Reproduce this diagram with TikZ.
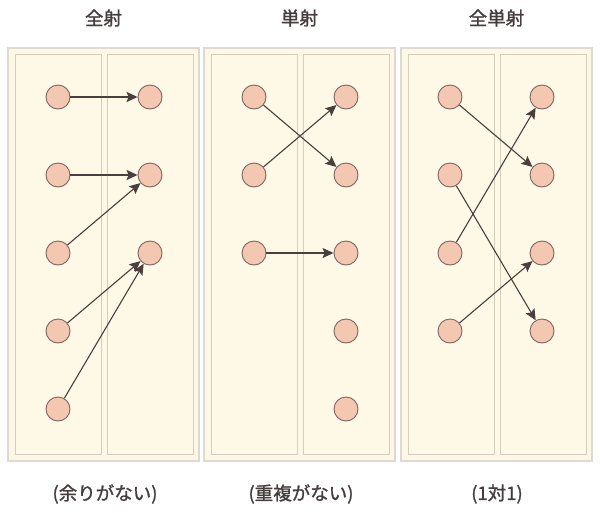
\documentclass[tikz,border=0pt]{standalone}
\usepackage{fontspec}
\setmainfont{Noto Sans CJK JP}[FakeBold=1.2]
\usetikzlibrary{arrows.meta}
\definecolor{panelfill}{HTML}{FDF7E6}
\definecolor{panelline}{HTML}{DEDAD2}
\definecolor{innerfill}{HTML}{FEF8E7}
\definecolor{innerline}{HTML}{D6CDBB}
\definecolor{dotfill}{HTML}{F4C8B0}
\definecolor{dotline}{HTML}{7E6462}
\definecolor{arrowcol}{HTML}{4A3E3E}
\definecolor{txtcol}{HTML}{463E3E}
\tikzset{
  panel/.style={draw=panelline, fill=panelfill, line width=1.5pt},
  inner/.style={draw=innerline, fill=innerfill, line width=1pt},
  dot/.style={circle, draw=dotline, fill=dotfill, line width=0.9pt, minimum size=24pt, inner sep=0pt},
  maparrow/.style={draw=arrowcol, line width=1.1pt, -{Stealth[length=11pt,width=10pt,inset=2pt]}},
  label/.style={text=txtcol, font=\fontsize{18.5}{21}\selectfont}
}
\begin{document}
\begin{tikzpicture}[x=1pt,y=-1pt]
\useasboundingbox (0,0) rectangle (600,512);
\fill[white] (0,0) rectangle (600,512);
% panels
\foreach \px in {8,204,401}{
  \draw[panel] (\px,48) rectangle ++(191,413);
  \draw[inner] (\px+7,54) rectangle ++(86,400);
  \draw[inner] (\px+99,54) rectangle ++(86,400);
}
% titles
\node[label] (t1) at (103.5,18) {全射};
\node[label] (t2) at (299.5,18) {単射};
\node[label] (t3) at (496.5,18) {全単射};
\node[label] (b1) at (105,494) {(余りがない)};
\node[label] (b2) at (301,494) {(重複がない)};
\node[label] (b3) at (497,494) {(1対1)};
% panel 1
\node[dot] (a1) at (58,97) {};
\node[dot] (a2) at (58,175) {};
\node[dot] (a3) at (58,253) {};
\node[dot] (a4) at (58,331) {};
\node[dot] (a5) at (58,409) {};
\node[dot] (ar1) at (150,97) {};
\node[dot] (ar2) at (150,175) {};
\node[dot] (ar3) at (150,253) {};
\draw[maparrow] (a1) -- (ar1);
\draw[maparrow] (a2) -- (ar2);
\draw[maparrow] (a3) -- (ar2);
\draw[maparrow] (a4) -- (ar3);
\draw[maparrow] (a5) -- (ar3);
% panel 2
\node[dot] (b1l) at (254,97) {};
\node[dot] (b2l) at (254,175) {};
\node[dot] (b3l) at (254,253) {};
\node[dot] (br1) at (346,97) {};
\node[dot] (br2) at (346,175) {};
\node[dot] (br3) at (346,253) {};
\node[dot] (br4) at (346,331) {};
\node[dot] (br5) at (346,409) {};
\draw[maparrow] (b1l) -- (br2);
\draw[maparrow] (b2l) -- (br1);
\draw[maparrow] (b3l) -- (br3);
% panel 3
\node[dot] (c1l) at (450,97) {};
\node[dot] (c2l) at (450,175) {};
\node[dot] (c3l) at (450,253) {};
\node[dot] (c4l) at (450,331) {};
\node[dot] (cr1) at (542,97) {};
\node[dot] (cr2) at (542,175) {};
\node[dot] (cr3) at (542,253) {};
\node[dot] (cr4) at (542,331) {};
\draw[maparrow] (c1l) -- (cr2);
\draw[maparrow] (c2l) -- (cr4);
\draw[maparrow] (c3l) -- (cr1);
\draw[maparrow] (c4l) -- (cr3);
\end{tikzpicture}
\end{document}
